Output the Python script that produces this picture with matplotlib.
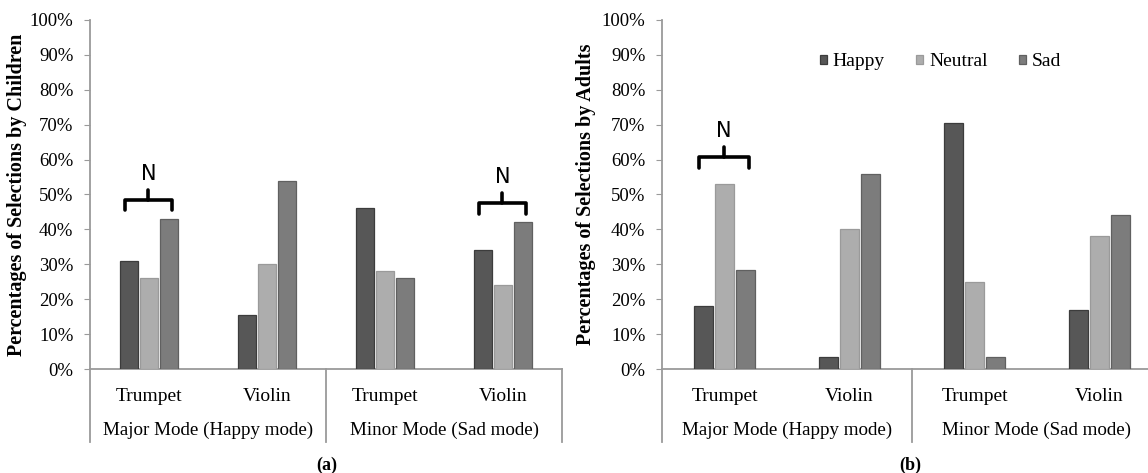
import matplotlib
matplotlib.use('Agg')
import matplotlib.pyplot as plt
import numpy as np

plt.rcParams['font.family'] = 'Liberation Serif'

# ---- data ----
emotions = ['Happy', 'Neutral', 'Sad']
instruments = ['Trumpet', 'Violin', 'Trumpet', 'Violin']
modes = ['Major Mode (Happy mode)', 'Minor Mode (Sad mode)']

children_happy = [31, 15.5, 46, 34]
children_neutral = [26, 30, 28, 24]
children_sad = [43, 54, 26, 42]

adults_happy = [18, 3.5, 70.5, 17]
adults_neutral = [53, 40, 25, 38]
adults_sad = [28.5, 56, 3.5, 44]

# "N" brackets: (category index, bracket height %)
children_marks = [(0, 48.5), (3, 47.5)]
adults_marks = [(0, 60.7)]

colors = ['#575757', '#adadad', '#7c7c7c']
edges = ['#3c3c3c', '#9a9a9a', '#606060']
axis_col = '#9a9a9a'

fig = plt.figure(figsize=(11.48, 4.73), dpi=100)
bottom = (473 - 369) / 473
height = (369 - 20) / 473
ax1 = fig.add_axes([90 / 1148, bottom, 472 / 1148, height])
ax2 = fig.add_axes([662 / 1148, bottom, 500 / 1148, height])


def draw_panel(ax, series, marks, ylabel, label_x, tag, tag_x):
    x = np.arange(len(instruments)) + 0.5
    w = 0.148
    offs = [-0.168, 0.0, 0.168]
    for vals, off, c, ec, lab in zip(series, offs, colors, edges, emotions):
        ax.bar(x + off, vals, w, color=c, edgecolor=ec, linewidth=0.9,
               label=lab, zorder=3)
    ax.set_xlim(0, 4)
    ax.set_ylim(0, 100)
    ax.set_yticks(np.arange(0, 101, 10))
    ax.set_yticklabels([f'{v}%' for v in range(0, 101, 10)], fontsize=13.5)
    ax.set_xticks([])
    for s in ['top', 'right']:
        ax.spines[s].set_visible(False)
    ax.spines['left'].set_color(axis_col)
    ax.spines['bottom'].set_color(axis_col)
    ax.spines['left'].set_linewidth(1.3)
    ax.spines['bottom'].set_linewidth(1.3)
    ax.tick_params(axis='y', length=4, color=axis_col, pad=8)
    ax.set_ylabel(ylabel, fontsize=14.5, fontweight='bold')
    ax.yaxis.set_label_coords(label_x, 0.5)

    # category axis separators below the plot
    for xv in [0, 2, 4]:
        ax.plot([xv, xv], [0, -21], color=axis_col, lw=1.3, clip_on=False)
    for xi, name in zip(x, instruments):
        ax.text(xi, -8, name, ha='center', va='center', fontsize=14)
    for i, m in enumerate(modes):
        ax.text(1 + 2 * i, -17.5, m, ha='center', va='center', fontsize=13.7)

    # "N" brackets
    for ci, yb in marks:
        xc = ci + 0.5
        x0, x1 = xc - 0.205, xc + 0.195
        ax.plot([x0, x0, x1, x1], [yb - 3, yb, yb, yb - 3], color='black',
                lw=2.6, solid_joinstyle='round', solid_capstyle='round', zorder=4)
        ax.plot([xc - 0.005, xc - 0.005], [yb, yb + 2.8], color='black',
                lw=2.6, solid_capstyle='round', zorder=4)
        ax.text(xc - 0.005, yb + 7.5, 'N', ha='center', va='center',
                fontsize=15, family='DejaVu Sans')

    fig.text(tag_x, 8 / 473, tag, ha='center', va='center',
             fontsize=13, fontweight='bold')


draw_panel(ax1, [children_happy, children_neutral, children_sad], children_marks,
           'Percentages of Selections by Children', -0.133, '(a)', 327 / 1148)
draw_panel(ax2, [adults_happy, adults_neutral, adults_sad], adults_marks,
           'Percentages of Selections by Adults', -0.132, '(b)', 910 / 1148)

ax2.legend(loc='center left', bbox_to_anchor=(0.316, 0.88), ncol=3, frameon=False,
           fontsize=14, handlelength=0.36, handleheight=0.36, handletextpad=0.3,
           columnspacing=1.6, borderpad=0, borderaxespad=0)

fig.savefig('out.png', dpi=100)
